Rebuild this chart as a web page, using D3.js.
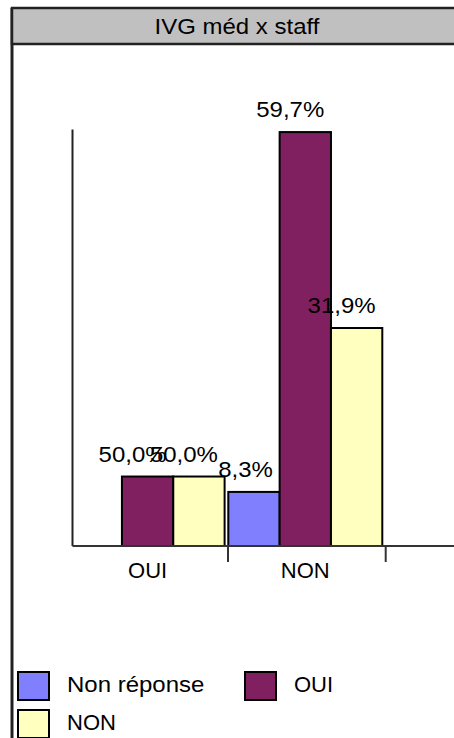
<!DOCTYPE html>
<html>
<head>
<meta charset="utf-8">
<script src="https://cdn.jsdelivr.net/npm/d3@7/dist/d3.min.js"></script>
<style>
  html, body { margin: 0; padding: 0; background: #fff; }
  svg { display: block; }
  text { font-family: "Liberation Sans", Arial, sans-serif; fill: #000; }
</style>
</head>
<body>
<div id="chart"></div>
<script>
// ---- data ----
const title = "IVG méd x staff";
const categories = ["OUI", "NON"];
const series = ["Non réponse", "OUI", "NON"];
const colors = ["#8080FF", "#802060", "#FFFFC0"];
// bar heights (plot scale 0..100)
const heightsNonReponse = [0, 13.0];
const heightsOui = [16.7, 99.5];
const heightsNon = [16.7, 52.4];
// data labels shown on the bars
const labelsNonReponse = [null, "8,3%"];
const labelsOui = ["50,0%", "59,7%"];
const labelsNon = ["50,0%", "31,9%"];

const W = 454, H = 738;
const WIDEN = 1.09; // the reference font is a little wider than Arial
const svg = d3.select("#chart").append("svg")
  .attr("width", W).attr("height", H);

function widen(sel) {
  sel.each(function () {
    const len = this.getComputedTextLength();
    d3.select(this).attr("textLength", len * WIDEN).attr("lengthAdjust", "spacingAndGlyphs");
  });
}

// frame + title bar
svg.append("line").attr("x1", 12).attr("x2", 12).attr("y1", 8).attr("y2", H)
  .attr("stroke", "#222").attr("stroke-width", 3);
svg.append("rect").attr("x", 12).attr("y", 8).attr("width", W + 10).attr("height", 36)
  .attr("fill", "#C0C0C0").attr("stroke", "#222").attr("stroke-width", 2.5);
svg.append("text").attr("x", 237).attr("y", 34).attr("text-anchor", "middle")
  .attr("font-size", 22).text(title).call(widen);

// scales
const plotLeft = 70.3, step = 157.7;
const plotTop = 130, plotBottom = 546;
const x = d3.scaleBand().domain(categories)
  .range([plotLeft, plotLeft + step * categories.length]).padding(0);
const xi = d3.scaleBand().domain(series).range([0.3, 154.3]).padding(0);
const y = d3.scaleLinear().domain([0, 100]).range([plotBottom, plotTop]);

const heights = [heightsNonReponse, heightsOui, heightsNon];
const labels = [labelsNonReponse, labelsOui, labelsNon];

const bars = [];
categories.forEach((c, ci) => {
  series.forEach((s, si) => {
    bars.push({ cat: c, ser: s, si, v: heights[si][ci], label: labels[si][ci] });
  });
});

// bars
svg.append("g").selectAll("rect").data(bars.filter(d => d.v > 0)).join("rect")
  .attr("x", d => x(d.cat) + xi(d.ser))
  .attr("y", d => y(d.v))
  .attr("width", xi.bandwidth())
  .attr("height", d => y(0) - y(d.v))
  .attr("fill", d => colors[d.si])
  .attr("stroke", "#000").attr("stroke-width", 2);

// axes
svg.append("line").attr("x1", 72.5).attr("x2", 72.5)
  .attr("y1", y(100) - 0.5).attr("y2", y(0))
  .attr("stroke", "#222").attr("stroke-width", 2);
svg.append("line").attr("x1", 72.5).attr("x2", W)
  .attr("y1", y(0)).attr("y2", y(0))
  .attr("stroke", "#333").attr("stroke-width", 2);
const tickXs = categories.map(c => x(c) + x.bandwidth());
svg.append("g").selectAll("line").data(tickXs).join("line")
  .attr("x1", d => d).attr("x2", d => d)
  .attr("y1", y(0)).attr("y2", y(0) + 16)
  .attr("stroke", "#333").attr("stroke-width", 2);
svg.append("g").selectAll("text").data(categories).join("text")
  .attr("x", c => x(c) + xi("OUI") + xi.bandwidth() / 2)
  .attr("y", y(0) + 32)
  .attr("text-anchor", "middle").attr("font-size", 22)
  .text(c => c);

// data labels (right edge sits a little right of the bar centre)
svg.append("g").selectAll("text").data(bars.filter(d => d.label)).join("text")
  .attr("x", d => x(d.cat) + xi(d.ser) + xi.bandwidth() / 2 + 19)
  .attr("y", d => y(d.v) - 15)
  .attr("text-anchor", "end").attr("font-size", 22)
  .text(d => d.label).call(widen);

// legend
const legendItems = [
  { name: series[0], color: colors[0], lx: 18, ly: 672 },
  { name: series[1], color: colors[1], lx: 245, ly: 672 },
  { name: series[2], color: colors[2], lx: 18, ly: 710 }
];
const lg = svg.append("g").selectAll("g").data(legendItems).join("g");
lg.append("rect").attr("x", d => d.lx).attr("y", d => d.ly)
  .attr("width", 31).attr("height", 28)
  .attr("fill", d => d.color).attr("stroke", "#000").attr("stroke-width", 2);
lg.append("text").attr("x", d => d.lx + 49).attr("y", d => d.ly + 20)
  .attr("font-size", 22).text(d => d.name)
  .filter(d => d.name === series[0]).call(widen);
</script>
</body>
</html>
